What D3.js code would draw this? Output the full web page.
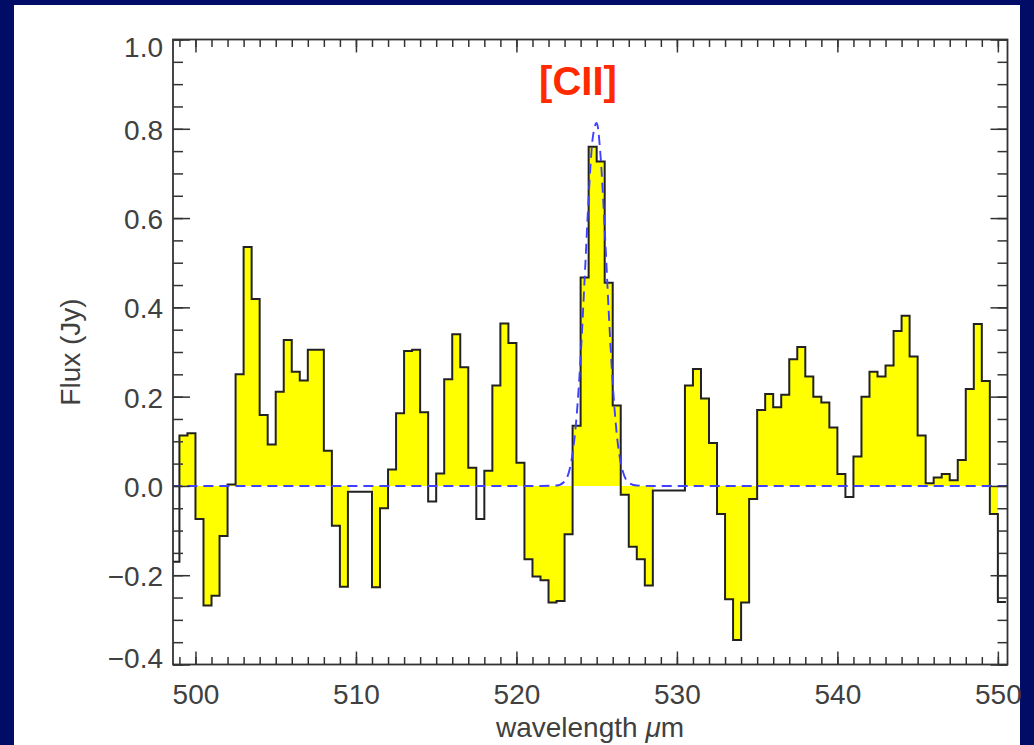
<!DOCTYPE html>
<html lang="en">
<head>
<meta charset="UTF-8">
<title>[CII] spectrum</title>
<script src="https://cdn.jsdelivr.net/npm/d3@7"></script>
<style>
  body { margin: 0; background: #000c66; }
  svg text { font-family: "Liberation Sans", Arial, sans-serif; }
</style>
</head>
<body>
<svg id="main" width="1034" height="745"></svg>
<script>
  // bin centres (um) of the spectrum
  const wavelength = [
    498.75, 499.25, 499.75, 500.25, 500.75, 501.25, 501.75, 502.25, 502.75, 503.25,
    503.75, 504.25, 504.75, 505.25, 505.75, 506.25, 506.75, 507.25, 507.75, 508.25,
    508.75, 509.25, 509.75, 510.25, 510.75, 511.25, 511.75, 512.25, 512.75, 513.25,
    513.75, 514.25, 514.75, 515.25, 515.75, 516.25, 516.75, 517.25, 517.75, 518.25,
    518.75, 519.25, 519.75, 520.25, 520.75, 521.25, 521.75, 522.25, 522.75, 523.25,
    523.75, 524.25, 524.75, 525.25, 525.75, 526.25, 526.75, 527.25, 527.75, 528.25,
    528.75, 529.25, 529.75, 530.25, 530.75, 531.25, 531.75, 532.25, 532.75, 533.25,
    533.75, 534.25, 534.75, 535.25, 535.75, 536.25, 536.75, 537.25, 537.75, 538.25,
    538.75, 539.25, 539.75, 540.25, 540.75, 541.25, 541.75, 542.25, 542.75, 543.25,
    543.75, 544.25, 544.75, 545.25, 545.75, 546.25, 546.75, 547.25, 547.75, 548.25,
    548.75, 549.25, 549.75, 550.25
  ];
  // flux (Jy) per bin
  const flux = [
    -0.17,
    0.113, 0.118, -0.074, -0.268, -0.246, -0.112, 0.003, 0.25, 0.535, 0.419,
    0.159, 0.093, 0.211, 0.327, 0.256, 0.236, 0.305, 0.305, 0.079, -0.089,
    -0.226, -0.013, -0.013, -0.013, -0.227, -0.05, 0.037, 0.163, 0.302, 0.305,
    0.165, -0.035, 0.028, 0.239, 0.34, 0.266, 0.041, -0.074, 0.034, 0.225,
    0.364, 0.32, 0.052, -0.164, -0.203, -0.211, -0.261, -0.258, -0.108, 0.135,
    0.467, 0.76, 0.727, 0.455, 0.18, -0.02, -0.136, -0.164, -0.223, -0.01,
    -0.01, -0.01, -0.01, 0.225, 0.262, 0.196, 0.096, -0.063, -0.254, -0.345,
    -0.261, -0.029, 0.17, 0.206, 0.176, 0.204, 0.284, 0.311, 0.245, 0.2,
    0.187, 0.131, 0.027, -0.025, 0.066, 0.2, 0.256, 0.245, 0.27, 0.347,
    0.381, 0.29, 0.113, 0.006, 0.019, 0.027, 0.013, 0.058, 0.217, 0.363,
    0.235, -0.063, -0.26
  ];
  // bins the original figure left without yellow shading
  const unshaded = [498.75, 509.75, 510.25, 510.75, 514.75, 517.75,
                    528.75, 529.25, 529.75, 530.25, 540.75, 550.25];

  // gaussian fit (dashed)
  const fitWave = [498.5, 521.5, 522.5, 523.0, 523.5, 523.75, 524.0, 524.25, 524.5, 524.75,
                   525.0, 525.25, 525.5, 525.75, 526.0, 526.25, 526.5, 527.0, 527.5, 528.5, 551];
  const fitFlux = [0, 0, 0.001, 0.01, 0.073, 0.156, 0.289, 0.464, 0.646, 0.778,
                   0.813, 0.735, 0.576, 0.391, 0.23, 0.117, 0.052, 0.007, 0.001, 0, 0];

  const xTicks = [500, 510, 520, 530, 540, 550];
  const yTicks = [-0.4, -0.2, 0.0, 0.2, 0.4, 0.6, 0.8, 1.0];

  const svg = d3.select('#main');
  const o = { left: 173, right: 1007.5, top: 39.5, bottom: 664.5 };
  const ink = '#333';
  const txt = '#404040';
  const fs = 28;

  // white slide panel
  svg.append('rect')
    .attr('x', 14).attr('y', 5)
    .attr('width', 1006).attr('height', 740)
    .attr('fill', '#fff');

  const x = d3.scaleLinear().domain([498.6, 550.6]).range([o.left, o.right]);
  const y = d3.scaleLinear().domain([-0.4, 1.0]).range([o.bottom, o.top]);

  svg.append('clipPath').attr('id', 'plotClip')
    .append('rect')
    .attr('x', o.left).attr('y', o.top)
    .attr('width', o.right - o.left).attr('height', o.bottom - o.top);

  const plot = svg.append('g').attr('clip-path', 'url(#plotClip)');
  const binW = wavelength[1] - wavelength[0];
  const bins = wavelength.map((w, i) => ({ lo: w - binW / 2, hi: w + binW / 2, v: flux[i], w: w }));

  // yellow fill between histogram and zero
  plot.append('g')
    .selectAll('rect')
    .data(bins.filter(d => !unshaded.includes(d.w)))
    .enter()
    .append('rect')
    .attr('x', d => x(d.lo))
    .attr('width', d => x(d.hi) - x(d.lo) + 0.6)
    .attr('y', d => Math.min(y(d.v), y(0)))
    .attr('height', d => Math.abs(y(d.v) - y(0)))
    .attr('fill', '#ffff00')
    .attr('shape-rendering', 'crispEdges');

  // histogram outline
  const stepPts = bins.map(d => [d.lo, d.v]);
  stepPts.push([bins[bins.length - 1].hi, bins[bins.length - 1].v]);
  plot.append('path')
    .attr('d', d3.line().x(d => x(d[0])).y(d => y(d[1])).curve(d3.curveStepAfter)(stepPts))
    .attr('fill', 'none')
    .attr('stroke', '#222')
    .attr('stroke-width', 2);

  // gaussian fit, dashed blue
  plot.append('path')
    .attr('d', d3.line().x((d, i) => x(fitWave[i])).y(d => y(d)).curve(d3.curveMonotoneX)(fitFlux))
    .attr('fill', 'none')
    .attr('stroke', '#4040ff')
    .attr('stroke-width', 1.9)
    .attr('stroke-dasharray', '10,6');

  // axes: ticks inward on all four sides
  const fmt = d3.format('.1f');
  const xMinor = d3.range(499, 551, 1);
  const yMinor = d3.range(-0.4, 1.0001, 0.05);

  function styleAxis(g) {
    g.select('.domain').remove();
    g.selectAll('line').attr('stroke', ink).attr('stroke-width', 1.5);
    g.selectAll('text').attr('fill', txt).attr('font-size', fs);
  }

  svg.append('g').attr('transform', `translate(0,${o.bottom})`)
    .call(d3.axisBottom(x).tickValues(xMinor).tickSize(-7.5).tickFormat(''))
    .call(styleAxis);
  svg.append('g').attr('transform', `translate(0,${o.bottom})`)
    .call(d3.axisBottom(x).tickValues(xTicks).tickSize(-13).tickPadding(20).tickFormat(d3.format('d')))
    .call(styleAxis);
  svg.append('g').attr('transform', `translate(0,${o.top})`)
    .call(d3.axisTop(x).tickValues(xMinor).tickSize(-7.5).tickFormat(''))
    .call(styleAxis);
  svg.append('g').attr('transform', `translate(0,${o.top})`)
    .call(d3.axisTop(x).tickValues(xTicks).tickSize(-13).tickFormat(''))
    .call(styleAxis);

  svg.append('g').attr('transform', `translate(${o.left},0)`)
    .call(d3.axisLeft(y).tickValues(yMinor).tickSize(-10).tickFormat(''))
    .call(styleAxis);
  const yAxis = svg.append('g').attr('transform', `translate(${o.left},0)`)
    .call(d3.axisLeft(y).tickValues(yTicks).tickSize(-17).tickPadding(10).tickFormat(fmt))
    .call(styleAxis);
  // end labels sit inside the frame, as in the figure
  yAxis.selectAll('text').attr('dy', d => d === 1.0 ? '0.62em' : d === -0.4 ? '0.12em' : '0.37em');

  svg.append('g').attr('transform', `translate(${o.right},0)`)
    .call(d3.axisRight(y).tickValues(yMinor).tickSize(-10).tickFormat(''))
    .call(styleAxis);
  svg.append('g').attr('transform', `translate(${o.right},0)`)
    .call(d3.axisRight(y).tickValues(yTicks).tickSize(-17).tickFormat(''))
    .call(styleAxis);

  // frame
  svg.append('rect')
    .attr('x', o.left).attr('y', o.top)
    .attr('width', o.right - o.left).attr('height', o.bottom - o.top)
    .attr('fill', 'none').attr('stroke', ink).attr('stroke-width', 1.8);

  // axis titles
  svg.append('text')
    .attr('transform', `translate(80,${(o.top + o.bottom) / 2}) rotate(-90)`)
    .attr('text-anchor', 'middle')
    .attr('fill', txt).attr('font-size', fs)
    .text('Flux (Jy)');

  const xt = svg.append('text')
    .attr('x', 590).attr('y', 737)
    .attr('text-anchor', 'middle')
    .attr('fill', txt).attr('font-size', fs);
  xt.append('tspan').text('wavelength ');
  xt.append('tspan').attr('font-style', 'italic').text('μ');
  xt.append('tspan').text('m');

  // line label
  svg.append('text')
    .attr('x', 578).attr('y', 95)
    .attr('text-anchor', 'middle')
    .attr('fill', '#ff2a00')
    .attr('font-size', 40)
    .attr('font-weight', 'bold')
    .text('[CII]');
</script>
</body>
</html>
